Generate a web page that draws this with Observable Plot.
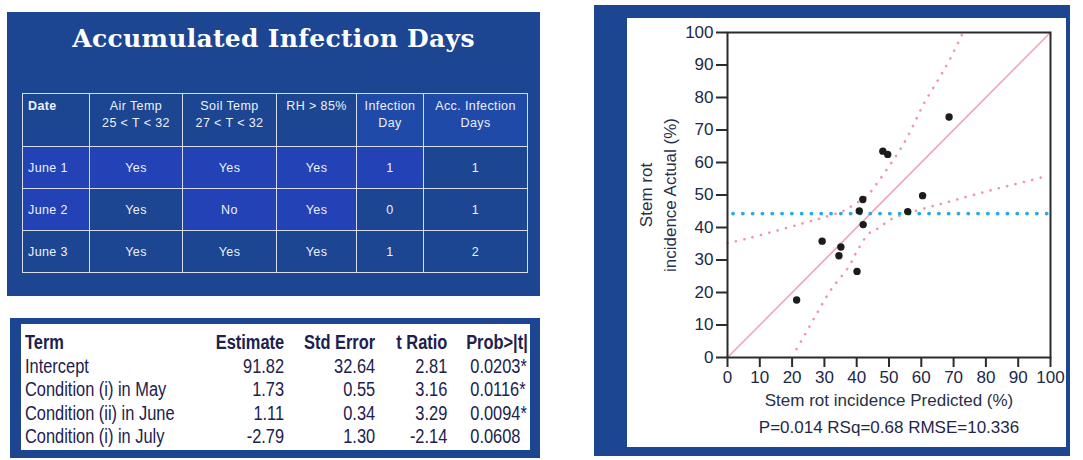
<!DOCTYPE html>
<html><head><meta charset="utf-8">
<script src="https://cdn.jsdelivr.net/npm/d3@7"></script>
<script src="https://cdn.jsdelivr.net/npm/@observablehq/plot@0.6"></script>
<style>
html,body{margin:0;padding:0;background:#fff;}
body{width:1083px;height:460px;position:relative;overflow:hidden;font-family:"Liberation Sans",Arial,sans-serif;}
.box{position:absolute;background:#1c4592;}
#title{position:absolute;left:7px;width:533px;top:24px;text-align:center;color:#fff;font-family:"DejaVu Serif",serif;font-weight:bold;font-size:25px;white-space:nowrap;letter-spacing:0.3px;}
#inf{position:absolute;left:22px;top:93px;border-collapse:collapse;table-layout:fixed;color:#eef1fa;font-size:12.5px;letter-spacing:0.4px;}
#inf td,#inf th{border:1.6px solid #d6dcea;padding:0;text-align:center;vertical-align:middle;font-weight:normal;}
#inf th{vertical-align:top;padding-top:4px;line-height:17px;white-space:pre-line;}
#inf th.first,#inf td.first{text-align:left;padding-left:5px;}
#inf th.first{font-weight:bold;}
#inf .hi{background:#2242b6;}
#inf .hh{background:#1f4aa8;}
#whiteReg{position:absolute;left:21px;top:324px;width:509px;height:126px;background:#fff;}
#reg{position:absolute;left:25px;top:331px;border-collapse:collapse;table-layout:fixed;color:#1c2150;font-family:"Liberation Sans",Arial,sans-serif;font-size:20px;transform:scaleX(0.82);transform-origin:0 0;}
#reg td,#reg th{padding:0;height:23.6px;line-height:23.6px;white-space:nowrap;}
#reg th{font-weight:bold;}
#reg .l{text-align:left;}
#reg .r{text-align:right;}
#reg th.p{text-align:left;padding-left:23px;}
#reg td.p{text-align:left;padding-left:28px;}
#plotWrap{position:absolute;left:627px;top:18px;}
</style></head><body>
<div class="box" style="left:7px;top:12px;width:533px;height:284px"></div>
<div id="title"></div>
<table id="inf"></table>
<div class="box" style="left:10px;top:318px;width:530px;height:140px"></div>
<div id="whiteReg"></div>
<table id="reg"></table>
<div class="box" style="left:594px;top:5px;width:476px;height:451px"></div>
<div class="box" style="left:627px;top:18px;width:439px;height:429px;background:#fff"></div>
<div id="plotWrap"></div>
<script>
// ---------- Data: Accumulated Infection Days table ----------
const tableTitle = "Accumulated Infection Days";
const infHeaders = ["Date", "Air Temp\n25 < T < 32", "Soil Temp\n27 < T < 32", "RH > 85%", "Infection\nDay", "Acc. Infection\nDays"];
const dates = ["June 1", "June 2", "June 3"];
const airTemp = ["Yes", "Yes", "Yes"];
const soilTemp = ["Yes", "No", "Yes"];
const rhAbove85 = ["Yes", "Yes", "Yes"];
const infectionDay = [1, 0, 1];
const accInfectionDays = [1, 1, 2];

// ---------- Data: regression table ----------
const regHeaders = ["Term", "Estimate", "Std Error", "t Ratio", "Prob>|t|"];
const terms = ["Intercept", "Condition (i) in May", "Condition (ii) in June", "Condition (i) in July"];
const estimates = ["91.82", "1.73", "1.11", "-2.79"];
const stdErrors = ["32.64", "0.55", "0.34", "1.30"];
const tRatios = ["2.81", "3.16", "3.29", "-2.14"];
const probs = ["0.0203*", "0.0116*", "0.0094*", "0.0608"];

// ---------- Data: scatter plot ----------
const predicted = [21.4, 29.3, 35.1, 34.5, 40.1, 40.8, 41.9, 42.0, 48.1, 49.6, 55.8, 60.4, 68.6];
const actual    = [17.7, 35.8, 34.0, 31.3, 26.5, 45.1, 48.6, 40.9, 63.5, 62.5, 44.9, 49.8, 74.0];
const fitX = [0, 100];
const fitY = [0, 100];
const upperX = [0, 5.7, 14.4, 22.7, 29.4, 36.1, 39.2, 42.8, 45.9, 49.5, 52.6, 55.7, 60.8, 65.5, 68.5, 72.7];
const upperY = [35.2, 36.5, 38.8, 41.1, 43.0, 45.2, 47.1, 49.3, 53.1, 58.1, 62.7, 67.8, 78.1, 85.9, 91.1, 99.5];
const lowerX = [21.4, 23.2, 27.3, 32.0, 37.6, 40.2, 43.8, 46.4, 51.0, 59.3, 65.4, 70.6, 76.8, 82.5, 88.1, 93.8, 97.5];
const lowerY = [2.6, 5.7, 12.9, 20.8, 28.0, 32.9, 38.2, 39.6, 42.7, 45.4, 47.1, 48.5, 50.2, 51.7, 53.1, 54.5, 55.5];
const meanActual = 44.3;
const ticks = [0, 10, 20, 30, 40, 50, 60, 70, 80, 90, 100];
const xLabel = "Stem rot incidence Predicted (%)";
const yLabel = "Stem rot\nincidence Actual (%)";
const fitStats = "P=0.014 RSq=0.68 RMSE=10.336";

// ---------- Build infection table ----------
document.getElementById("title").textContent = tableTitle;
const colW = [67, 93, 94, 80, 67, 104];
const rowH = [53, 42, 42, 42];
const bright = new Set(["0-4","0-5"]);
const brighter = new Set(["1-0","1-1","1-2","1-3","1-4","2-0","2-2","2-3"]);
const inf = document.getElementById("inf");
let html = "<colgroup>" + colW.map(w => `<col style="width:${w}px">`).join("") + "</colgroup>";
html += `<tr style="height:${rowH[0]}px">` + infHeaders.map((h,i) =>
  `<th class="${i===0?'first ':''}${bright.has('0-'+i)?'hh':''}">${h.replace(/</g,'&lt;').replace(/>/g,'&gt;')}</th>`).join("") + "</tr>";
dates.forEach((d, r) => {
  const cells = [d, airTemp[r], soilTemp[r], rhAbove85[r], infectionDay[r], accInfectionDays[r]];
  html += `<tr style="height:${rowH[r+1]}px">` + cells.map((c,i) =>
    `<td class="${i===0?'first ':''}${brighter.has((r+1)+'-'+i)?'hi':''}">${c}</td>`).join("") + "</tr>";
});
inf.innerHTML = html;

// ---------- Build regression table ----------
const regW = [220, 96, 111, 88, 110];
const reg = document.getElementById("reg");
let rh = "<colgroup>" + regW.map(w => `<col style="width:${w}px">`).join("") + "</colgroup>";
const cls = ["l","r","r","r","p"];
rh += "<tr>" + regHeaders.map((h,i) => `<th class="${cls[i]}">${h.replace(/>/g,'&gt;')}</th>`).join("") + "</tr>";
terms.forEach((t, r) => {
  const cells = [t, estimates[r], stdErrors[r], tRatios[r], probs[r]];
  rh += "<tr>" + cells.map((c,i) => `<td class="${cls[i]}">${c}</td>`).join("") + "</tr>";
});
reg.innerHTML = rh;

// ---------- Scatter plot ----------
const pts = predicted.map((p, i) => ({p, a: actual[i]}));
const fit = fitX.map((x, i) => ({x, y: fitY[i]}));
const upper = upperX.map((x, i) => ({x, y: upperY[i]}));
const lower = lowerX.map((x, i) => ({x, y: lowerY[i]}));
const axisColor = "#2a2a30";
const labelColor = "#1d2748";
const chart = Plot.plot({
  width: 439, height: 429,
  marginLeft: 100, marginRight: 16, marginTop: 14, marginBottom: 90,
  style: {background: "transparent", fontFamily: "'Liberation Sans', Arial, sans-serif", fontSize: "17px", color: labelColor},
  x: {domain: [0, 100], label: null},
  y: {domain: [0, 100], label: null},
  marks: [
    Plot.line(fit, {x: "x", y: "y", stroke: "#f2a3b6", strokeWidth: 1.6}),
    Plot.line(upper, {x: "x", y: "y", curve: "catmull-rom", stroke: "#f094ae", strokeWidth: 2.6, strokeDasharray: "0.1 8.5", strokeLinecap: "round"}),
    Plot.line(lower, {x: "x", y: "y", curve: "catmull-rom", stroke: "#f094ae", strokeWidth: 2.6, strokeDasharray: "0.1 8.5", strokeLinecap: "round"}),
    Plot.ruleY([meanActual], {stroke: "#29a9e6", strokeWidth: 3.8, strokeDasharray: "0.1 9.7", strokeDashoffset: -6, strokeLinecap: "round"}),
    Plot.dot(pts, {x: "p", y: "a", r: 3.7, fill: "#1c1c1c", stroke: "none"}),
    Plot.axisX({ticks, tickSize: 10, tickPadding: 3, stroke: axisColor, strokeWidth: 2, fill: labelColor, label: null}),
    Plot.axisY({ticks, tickSize: 11, tickPadding: 3, stroke: axisColor, strokeWidth: 2, fill: labelColor, label: null}),
    Plot.frame({stroke: axisColor, strokeWidth: 2}),
    Plot.text([xLabel], {frameAnchor: "bottom", dy: 48, fill: "#283049", fontSize: 17, textAnchor: "middle"}),
    Plot.text([fitStats], {frameAnchor: "bottom", dy: 75, fill: "#1f2748", fontSize: 17, textAnchor: "middle"}),
    Plot.text([yLabel], {frameAnchor: "left", dx: -71.5, rotate: -90, lineHeight: 1.45, fill: "#283049", fontSize: 17, textAnchor: "middle"})
  ]
});
document.getElementById("plotWrap").appendChild(chart);
</script>
</body></html>
